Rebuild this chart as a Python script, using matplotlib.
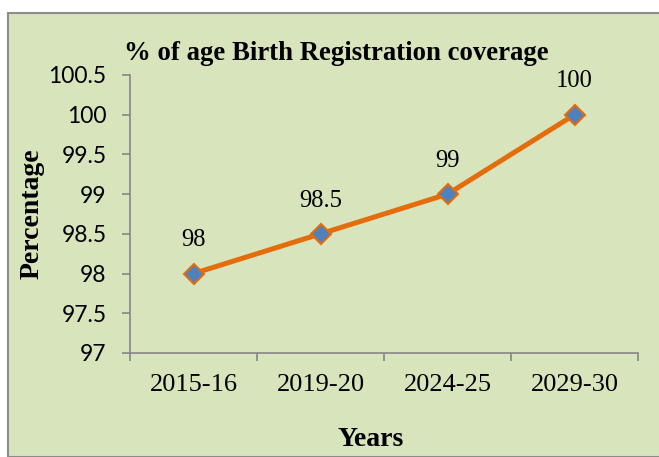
import matplotlib
matplotlib.use("Agg")
import matplotlib.pyplot as plt
from matplotlib.patches import Rectangle

years = ["2015-16", "2019-20", "2024-25", "2029-30"]
coverage = [98, 98.5, 99, 100]
yticks = [97, 97.5, 98, 98.5, 99, 99.5, 100, 100.5]
ytick_labels = ["97", "97.5", "98", "98.5", "99", "99.5", "100", "100.5"]

W, H = 659, 457
fig = plt.figure(figsize=(W / 100, H / 100), dpi=100)
fig.patch.set_facecolor("white")

bg = Rectangle((8 / W, 0), 1, 1 - 13 / H, transform=fig.transFigure,
               facecolor="#D8E4BC", edgecolor="#8C8C8C", linewidth=1.5, zorder=-10)
fig.patches.append(bg)

ax = fig.add_axes([130 / W, 1 - 353 / H, (638 - 130) / W, (353 - 75) / H])
ax.set_zorder(2)
ax.set_facecolor("none")
x = list(range(len(years)))
ax.plot(x, coverage, color="#E46C0A", linewidth=3.6, marker="D", markersize=10,
        markerfacecolor="#4F81BD", markeredgecolor="#E46C0A", markeredgewidth=1.5,
        zorder=3, clip_on=False)
for xi, v in zip(x, coverage):
    ax.annotate(f"{v:g}", (xi, v), xytext=(0, 16), textcoords="offset points",
                ha="center", va="bottom", fontsize=17.7, family="Liberation Serif")

ax.set_xlim(-0.5, len(years) - 0.5)
ax.set_ylim(97, 100.5)
ax.set_yticks(yticks)
ax.set_yticklabels(ytick_labels, fontsize=16.5, family="Lato")
ax.set_xticks(x)
ax.set_xticklabels(years, fontsize=19, family="Liberation Serif")
ax.tick_params(axis="x", length=0, pad=15)
ax.set_xticks([i - 0.5 for i in range(len(years) + 1)], minor=True)
ax.tick_params(axis="x", which="minor", length=6, color="#868686", width=1.2)
ax.tick_params(axis="y", length=6, color="#868686", width=1.2, pad=11)
for s in ["top", "right"]:
    ax.spines[s].set_visible(False)
for s in ["left", "bottom"]:
    ax.spines[s].set_color("#868686")
    ax.spines[s].set_linewidth(1.2)

fig.text(336 / W, 1 - 53 / H, "% of age Birth Registration coverage", ha="center",
         va="center", fontsize=19.3, fontweight="bold", family="Liberation Serif")
fig.text(32 / W, 1 - 214 / H, "Percentage", ha="center", va="center", rotation=90,
         fontsize=20, fontweight="bold", family="Liberation Serif")
fig.text(371 / W, 1 - 440 / H, "Years", ha="center", va="center",
         fontsize=20, fontweight="bold", family="Liberation Serif")

fig.savefig("out.png", dpi=100)
